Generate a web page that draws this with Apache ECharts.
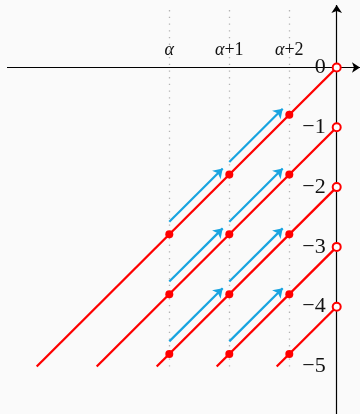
<!DOCTYPE html>
<html>
<head>
<meta charset="utf-8">
<script src="https://cdn.jsdelivr.net/npm/echarts@6/dist/echarts.min.js"></script>
<style>
html,body{margin:0;padding:0;background:#fafafa;}
#c{width:360px;height:414px;}
</style>
</head>
<body>
<div id="c"></div>
<script>
// ---- data ----
const tickPositions = [0, 1, 2];               // α, α+1, α+2
const tickLabels = ['{i|α}', '{i|α}{n|+1}', '{i|α}{n|+2}'];
const axisX = 2.79;                             // position of the vertical axis
const levels = [0, -1, -2, -3, -4, -5];
const levelLabels = ['0', '−1', '−2', '−3', '−4', '−5'];
const yBottom = -5;
const yTop = 1.045;
const xLeft = -2.705;
const xRight = 3.178;

// red lines: [xStart, yStart, xEnd, yEnd]
const redSegments = [
  [-2.21, -5, 2.79, 0],
  [-1.21, -5, 2.79, -1],
  [-0.21, -5, 2.79, -2],
  [0.79, -5, 2.79, -3],
  [1.79, -5, 2.79, -4]
];
// filled dots
const filledDots = [
  [0, -2.79], [1, -1.79], [2, -0.79],
  [0, -3.79], [1, -2.79], [2, -1.79],
  [0, -4.79], [1, -3.79], [2, -2.79],
  [1, -4.79], [2, -3.79],
  [2, -4.79]
];
// open dots on the vertical axis
const openDots = [[2.79, 0], [2.79, -1], [2.79, -2], [2.79, -3], [2.79, -4]];
// blue arrows: [xStart, yStart, xEnd, yEnd]
const blueArrows = [
  [0, -2.58, 0.89, -1.69], [1, -1.58, 1.89, -0.69],
  [0, -3.58, 0.89, -2.69], [1, -2.58, 1.89, -1.69],
  [0, -4.58, 0.89, -3.69], [1, -3.58, 1.89, -2.69],
  [1, -4.58, 1.89, -3.69]
];

// ---- chart ----
const chart = echarts.init(document.getElementById('c'), null, {renderer: 'canvas'});
const serif = '"Liberation Serif", "DejaVu Serif", serif';
const RED = '#ff0000';
const BLUE = '#18a4e0';
const TXT = '#111';

const toLines = arr => arr.map(s => ({coords: [[s[0], s[1]], [s[2], s[3]]]}));

const option = {
  backgroundColor: '#fafafa',
  animation: false,
  grid: {left: 0, right: 0, top: 0, bottom: 0, containLabel: false},
  xAxis: {type: 'value', min: -169.3 / 60, max: (360 - 169.3) / 60, show: false},
  yAxis: {type: 'value', min: -(414 - 67.5) / 59.8, max: 67.5 / 59.8, show: false},
  series: [
    // dotted guide lines
    {
      type: 'lines', coordinateSystem: 'cartesian2d', silent: true, z: 1,
      lineStyle: {color: '#b4b4b4', width: 1.3, type: [1.3, 5.4], opacity: 1},
      data: tickPositions.map(x => ({coords: [[x, yBottom], [x, yTop]]}))
    },
    // axes
    {
      type: 'lines', coordinateSystem: 'cartesian2d', silent: true, z: 2,
      symbol: ['none', 'arrow'], symbolSize: [6, 8],
      lineStyle: {color: '#000', width: 1.2, opacity: 1},
      data: [
        {coords: [[xLeft, 0], [xRight, 0]]},
        {coords: [[axisX, -6], [axisX, yTop]]}
      ]
    },
    // tick labels
    {
      type: 'scatter', symbolSize: 0, z: 5, silent: true,
      itemStyle: {opacity: 1},
      data: tickPositions.map((x, i) => ({value: [x, 0], name: tickLabels[i]})),
      label: {
        show: true, position: 'top', distance: 8, opacity: 1,
        formatter: p => p.name,
        fontFamily: serif, fontSize: 18, color: TXT,
        rich: {
          i: {fontFamily: serif, fontStyle: 'italic', fontSize: 18, color: TXT},
          n: {fontFamily: serif, fontSize: 18, color: TXT}
        }
      }
    },
    // red lines
    {
      type: 'lines', coordinateSystem: 'cartesian2d', silent: true, z: 3,
      lineStyle: {color: RED, width: 2.3, opacity: 1},
      data: toLines(redSegments)
    },
    // blue arrows
    {
      type: 'lines', coordinateSystem: 'cartesian2d', silent: true, z: 3,
      symbol: ['none', 'arrow'], symbolSize: [6, 9],
      lineStyle: {color: BLUE, width: 2.2, opacity: 1},
      data: toLines(blueArrows)
    },
    // filled dots
    {
      type: 'scatter', z: 6, silent: true, symbol: 'circle', symbolSize: 8,
      itemStyle: {color: RED, opacity: 1},
      data: filledDots
    },
    // open dots
    {
      type: 'scatter', z: 6, silent: true, symbol: 'circle', symbolSize: 8,
      itemStyle: {color: '#fff', borderColor: RED, borderWidth: 2, opacity: 1},
      data: openDots
    },
    // level labels
    {
      type: 'scatter', symbolSize: 0, z: 5, silent: true,
      itemStyle: {opacity: 1},
      data: levels.map((y, i) => ({value: [axisX, y], name: levelLabels[i]})),
      label: {
        show: true, position: 'left', distance: 11, opacity: 1,
        formatter: p => p.name,
        fontFamily: serif, fontSize: 22, color: TXT
      }
    }
  ]
};
chart.setOption(option);
</script>
</body>
</html>
